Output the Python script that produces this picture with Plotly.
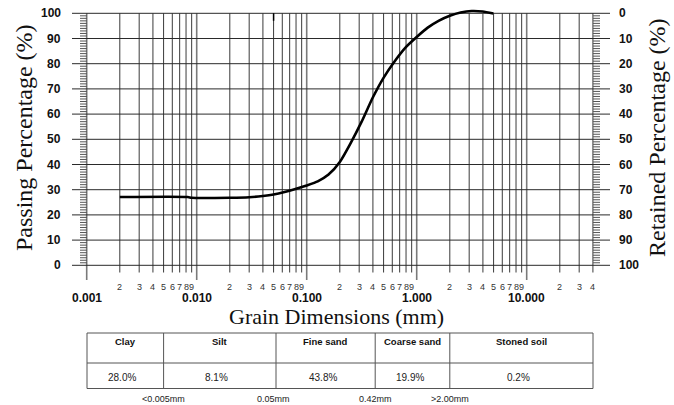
import math
import plotly.graph_objects as go

# ---- data -------------------------------------------------------------
# grain size distribution curve: diameter (mm) vs. passing percentage
grain_mm = [0.002, 0.0083, 0.009, 0.02, 0.03, 0.04, 0.05, 0.063, 0.079, 0.1,
            0.126, 0.158, 0.2, 0.251, 0.316, 0.398, 0.501, 0.631, 0.794, 1.0,
            1.26, 1.58, 2.0, 2.51, 3.16, 3.98, 4.98]
passing_pct = [27.1, 27.1, 26.8, 26.8, 27.0, 27.5, 28.1, 29.1, 30.3, 31.7,
               33.3, 36.0, 41.0, 48.5, 57.0, 66.5, 74.5, 81.0, 86.5, 90.6,
               94.3, 97.0, 99.0, 100.3, 100.9, 100.7, 99.9]

y_ticks = [0, 10, 20, 30, 40, 50, 60, 70, 80, 90, 100]
decade_values = [0.001, 0.01, 0.1, 1.0, 10.0]
decade_labels = ["0.001", "0.010", "0.100", "1.000", "10.000"]
minor_digits = [2, 3, 4, 5, 6, 7, 8, 9]
last_decade_digits = [2, 3, 4]

fraction_names = ["Clay", "Silt", "Fine sand", "Coarse sand", "Stoned soil"]
fraction_values = ["28.0%", "8.1%", "43.8%", "19.9%", "0.2%"]
boundary_mm = [0.005, 0.05, 0.42, 2.0]
boundary_labels = ["<0.005mm", "0.05mm", "0.42mm", ">2.00mm"]

# ---- page geometry (pixels) ------------------------------------------
W, H = 674, 405


def px(x):
    return x / W


def py(y):
    return 1 - y / H


SANS = "Arial, Liberation Sans, sans-serif"
SERIF = "Times New Roman, Liberation Serif, serif"
x_max = last_decade_digits[-1] * decade_values[-1]

fig = go.Figure()
fig.add_trace(go.Scatter(
    x=grain_mm, y=passing_pct, mode="lines",
    line=dict(color="#000000", width=2.6, shape="spline", smoothing=0.6),
    hoverinfo="skip", showlegend=False,
))

shapes = []
annotations = []

# vertical grid: decade lines and the intermediate 2..9 lines
minor_vals = []
for d in decade_values[:-1]:
    for k in minor_digits:
        minor_vals.append((d * k, k))
for k in last_decade_digits:
    minor_vals.append((decade_values[-1] * k, k))

for v, k in minor_vals:
    shapes.append(dict(type="line", xref="x", yref="paper", x0=v, x1=v,
                       y0=py(272.5), y1=py(13.3), layer="below",
                       line=dict(color="#3a3a3a", width=1)))
    annotations.append(dict(x=math.log10(v), y=py(287), xref="x", yref="paper",
                            text=str(k), showarrow=False,
                            font=dict(family=SANS, size=9, color="#333333"),
                            xanchor="center", yanchor="middle"))

for v, lab in zip(decade_values, decade_labels):
    shapes.append(dict(type="line", xref="x", yref="paper", x0=v, x1=v,
                       y0=py(280), y1=py(13.3), layer="below",
                       line=dict(color="#7a7a7a", width=1.6)))
    annotations.append(dict(x=math.log10(v), y=py(297.5), xref="x", yref="paper",
                            text="<b>%s</b>" % lab, showarrow=False,
                            font=dict(family=SANS, size=12, color="#111111"),
                            xanchor="center", yanchor="middle"))

# horizontal grid lines with their outer tick extensions
for v in y_ticks:
    shapes.append(dict(type="line", xref="paper", yref="y", x0=px(72), x1=px(610),
                       y0=v, y1=v, layer="below",
                       line=dict(color="#2a2a2a", width=1)))
    annotations.append(dict(x=px(63), y=v, xref="paper", yref="y",
                            text="<b>%d</b>" % v, showarrow=False,
                            font=dict(family=SANS, size=12, color="#111111"),
                            xanchor="right", yanchor="middle"))
    annotations.append(dict(x=px(617), y=v, xref="paper", yref="y",
                            text="<b>%d</b>" % (100 - v), showarrow=False,
                            font=dict(family=SANS, size=12, color="#111111"),
                            xanchor="left", yanchor="middle"))

# 1 % minor ticks on both vertical axes
for v in range(0, 101):
    if v % 10 == 0:
        continue
    shapes.append(dict(type="line", xref="paper", yref="y", x0=px(80), x1=px(87),
                       y0=v, y1=v, layer="below",
                       line=dict(color="#555555", width=1)))
    shapes.append(dict(type="line", xref="paper", yref="y", x0=px(593), x1=px(600),
                       y0=v, y1=v, layer="below",
                       line=dict(color="#555555", width=1)))

# small mark for the silt / sand limit at the top edge
shapes.append(dict(type="line", xref="x", yref="y", x0=boundary_mm[1], x1=boundary_mm[1],
                   y0=97, y1=100, line=dict(color="#000000", width=1.5)))

# axis titles
annotations.append(dict(x=px(24), y=py(138), xref="paper", yref="paper",
                        text="Passing Percentage (%)", textangle=-90, showarrow=False,
                        font=dict(family=SERIF, size=24, color="#111111"),
                        xanchor="center", yanchor="middle"))
annotations.append(dict(x=px(657), y=py(138), xref="paper", yref="paper",
                        text="Retained Percentage (%)", textangle=-90, showarrow=False,
                        font=dict(family=SERIF, size=24, color="#111111"),
                        xanchor="center", yanchor="middle"))
annotations.append(dict(x=px(336), y=py(316), xref="paper", yref="paper",
                        text="Grain Dimensions (mm)", showarrow=False,
                        font=dict(family=SERIF, size=22, color="#111111"),
                        xanchor="center", yanchor="middle"))

# ---- fraction table under the chart ----------------------------------
col_edges = [87, 163.6, 276, 375.2, 449.8, 593]
t_top, t_mid, t_bot = 333, 363, 388.5
tcol = "#555555"
for yy in (t_top, t_mid, t_bot):
    shapes.append(dict(type="line", xref="paper", yref="paper",
                       x0=px(col_edges[0]), x1=px(col_edges[-1]), y0=py(yy), y1=py(yy),
                       line=dict(color=tcol, width=1)))
for xx in col_edges:
    shapes.append(dict(type="line", xref="paper", yref="paper",
                       x0=px(xx), x1=px(xx), y0=py(t_top), y1=py(t_bot),
                       line=dict(color=tcol, width=1)))

for i, (name, val) in enumerate(zip(fraction_names, fraction_values)):
    cx = (col_edges[i] + col_edges[i + 1]) / 2
    annotations.append(dict(x=px(cx), y=py(341.5), xref="paper", yref="paper",
                            text="<b>%s</b>" % name, showarrow=False,
                            font=dict(family=SANS, size=9.5, color="#111111"),
                            xanchor="center", yanchor="middle"))
    annotations.append(dict(x=px(cx - 3), y=py(377.5), xref="paper", yref="paper",
                            text=val, showarrow=False,
                            font=dict(family=SANS, size=10, color="#222222"),
                            xanchor="center", yanchor="middle"))

for b, lab in zip(boundary_mm, boundary_labels):
    annotations.append(dict(x=math.log10(b), y=py(398.5), xref="x", yref="paper",
                            text=lab, showarrow=False,
                            font=dict(family=SANS, size=9, color="#222222"),
                            xanchor="center", yanchor="middle"))

# ---- axes --------------------------------------------------------------
# log axis range extends slightly past 0.001 .. 40 mm so edge lines are not clipped
x_lo = math.log10(decade_values[0]) - 0.1
x_hi = math.log10(x_max) + 0.098
fig.update_layout(
    width=W, height=H,
    margin=dict(l=0, r=0, t=0, b=0),
    paper_bgcolor="white", plot_bgcolor="white",
    showlegend=False,
    xaxis=dict(type="log", range=[x_lo, x_hi], domain=[px(75.7), px(603.7)],
               showgrid=False, zeroline=False, showline=False,
               showticklabels=False, ticks=""),
    yaxis=dict(range=[-3, 103], domain=[py(272.86), py(5.74)],
               showgrid=False, zeroline=False, showline=False,
               showticklabels=False, ticks=""),
    shapes=shapes,
    annotations=annotations,
)

fig.write_html("out.html")
